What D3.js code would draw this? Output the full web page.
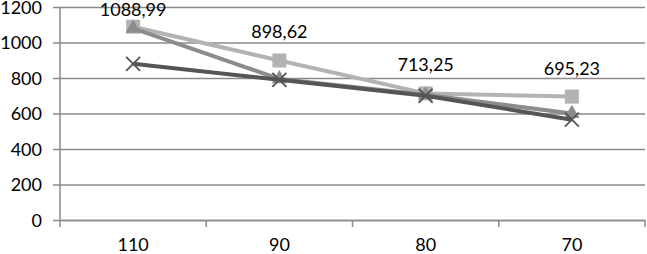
<!DOCTYPE html>
<html>
<head>
<meta charset="utf-8">
<script src="https://cdn.jsdelivr.net/npm/d3@7"></script>
<style>
  body { margin: 0; background: #fff; }
  svg text { font-family: Lato, "Open Sans", sans-serif; fill: #000; }
</style>
</head>
<body>
<svg id="chart"></svg>
<script>
const categories = ["110", "90", "80", "70"];
const squareSeries = [1088.99, 898.62, 713.25, 695.23];
const triangleSeries = [1080, 795, 705, 600];
const crossSeries = [880, 790, 700, 565];
const yTicks = [0, 200, 400, 600, 800, 1000, 1200];

const width = 647, height = 254;
const plotLeft = 60, plotRight = 645, plotTop = 7, plotBottom = 220;

const svg = d3.select("#chart")
  .attr("width", width)
  .attr("height", height);

const x = d3.scaleBand().domain(categories).range([plotLeft, plotRight]).padding(0);
const y = d3.scaleLinear().domain([0, 1200]).range([plotBottom, plotTop]);
const cx = c => x(c) + x.bandwidth() / 2;

// gridlines + y labels
const yAxis = d3.axisLeft(y).tickValues(yTicks).tickFormat(d3.format("d"))
  .tickSize(-(plotRight - plotLeft)).tickSizeOuter(0).tickPadding(18);
const gy = svg.append("g").attr("transform", `translate(${plotLeft},0)`).call(yAxis);
gy.select(".domain").remove();
gy.selectAll(".tick line").attr("stroke", "#8a8a8a").attr("stroke-width", 1.5).attr("x1", -7);
gy.selectAll(".tick text").style("font-size", "18px").attr("dy", "0.36em");

// y axis line
svg.append("line").attr("x1", plotLeft).attr("x2", plotLeft).attr("y1", plotTop).attr("y2", plotBottom)
  .attr("stroke", "#8a8a8a").attr("stroke-width", 1.5);

// x axis
const gx = svg.append("g").attr("transform", `translate(0,${plotBottom})`)
  .call(d3.axisBottom(x).tickSize(0).tickPadding(18));
gx.select(".domain").attr("stroke", "#8a8a8a").attr("stroke-width", 1.5);
gx.selectAll(".tick text").style("font-size", "18px");
// category boundary ticks
const bounds = categories.map(c => x(c)).concat([plotRight]);
gx.selectAll("line.bound").data(bounds).enter().append("line")
  .attr("class", "bound")
  .attr("x1", d => d).attr("x2", d => d).attr("y1", 0).attr("y2", 7)
  .attr("stroke", "#8a8a8a").attr("stroke-width", 1.5);

const line = d3.line().x((d, i) => cx(categories[i])).y(d => y(d));

// square series (lightest)
svg.append("path").datum(squareSeries).attr("d", line)
  .attr("fill", "none").attr("stroke", "#b3b3b3").attr("stroke-width", 4).attr("stroke-linejoin", "round");
svg.selectAll("rect.sq").data(squareSeries).enter().append("rect")
  .attr("class", "sq")
  .attr("x", (d, i) => cx(categories[i]) - 7).attr("y", d => y(d) - 7)
  .attr("width", 14).attr("height", 14).attr("fill", "#b3b3b3");

// triangle series
svg.append("path").datum(triangleSeries).attr("d", line)
  .attr("fill", "none").attr("stroke", "#8c8c8c").attr("stroke-width", 4).attr("stroke-linejoin", "round");
svg.selectAll("path.tri").data(triangleSeries).enter().append("path")
  .attr("class", "tri")
  .attr("d", d3.symbol().type(d3.symbolTriangle).size(100))
  .attr("transform", (d, i) => `translate(${cx(categories[i])},${y(d)})`)
  .attr("fill", "#8c8c8c");

// cross series (darkest)
svg.append("path").datum(crossSeries).attr("d", line)
  .attr("fill", "none").attr("stroke", "#555").attr("stroke-width", 4).attr("stroke-linejoin", "round");
svg.selectAll("path.xm").data(crossSeries).enter().append("path")
  .attr("class", "xm")
  .attr("d", "M-7,-7L7,7M-7,7L7,-7")
  .attr("transform", (d, i) => `translate(${cx(categories[i])},${y(d)})`)
  .attr("stroke", "#555").attr("stroke-width", 1.8).attr("fill", "none");

// data labels for square series
svg.selectAll("text.lbl").data(squareSeries).enter().append("text")
  .attr("class", "lbl")
  .attr("x", (d, i) => cx(categories[i]))
  .attr("y", d => Math.max(y(d) - 22, 16))
  .attr("text-anchor", "middle")
  .style("font-size", "18px")
  .text(d => d3.format(".2f")(d).replace(".", ","));
</script>
</body>
</html>
